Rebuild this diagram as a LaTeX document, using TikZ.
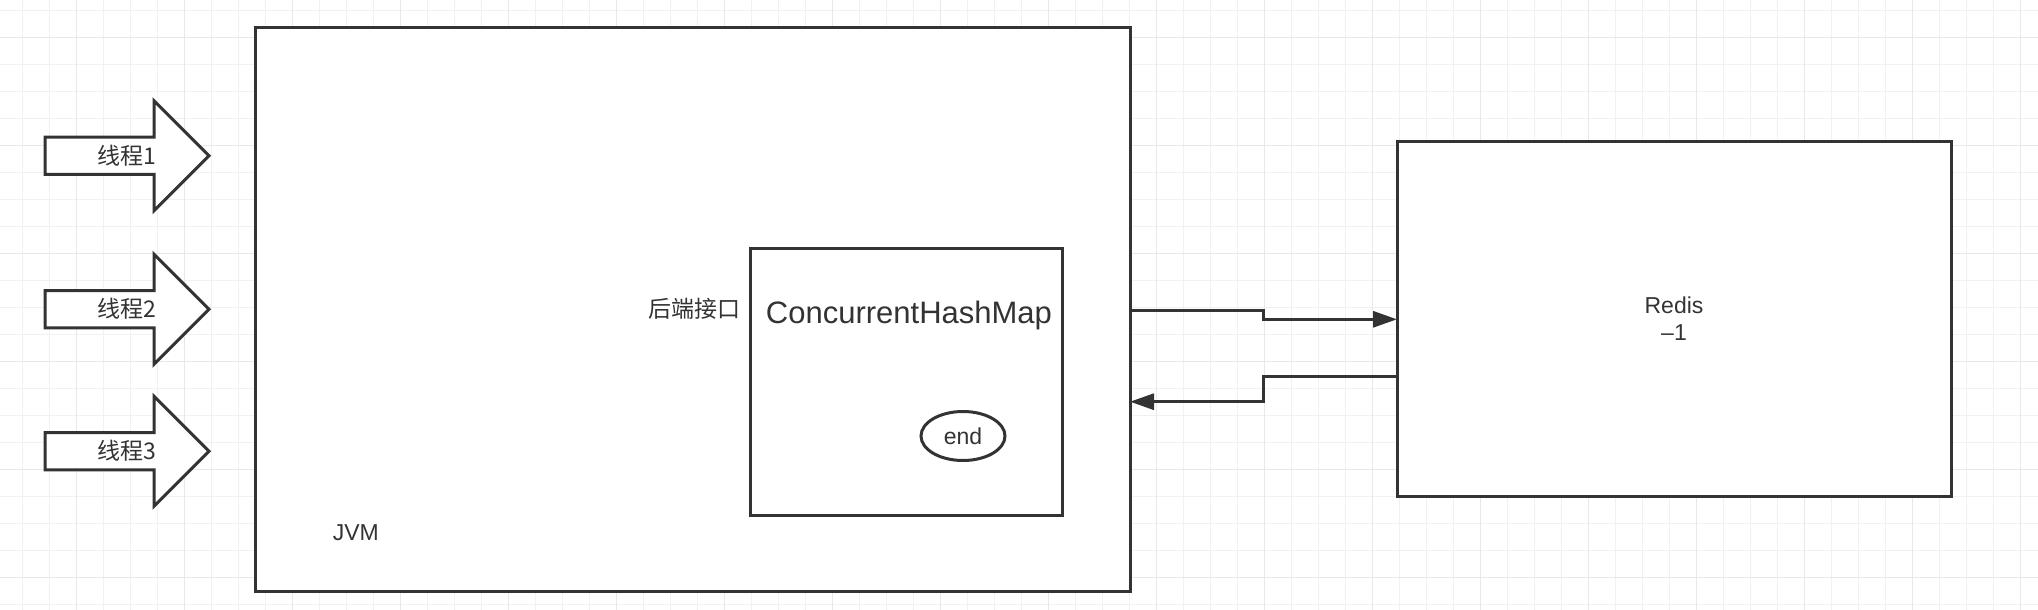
\documentclass[tikz,border=0pt]{standalone}
\usepackage{fontspec}
\setmainfont{Liberation Sans}
\newfontfamily\cjk{Noto Sans CJK SC}
\usetikzlibrary{arrows.meta,shapes.geometric}
\definecolor{ink}{HTML}{333333}
\definecolor{gridminor}{HTML}{F1F1F1}
\definecolor{gridmajor}{HTML}{E8E8E8}
\begin{document}
\begin{tikzpicture}[x=1pt,y=-1pt,
  box/.style={draw=ink, line width=3pt, fill=white, inner sep=0pt, outer sep=0pt},
  lbl/.style={text=ink, font=\fontsize{23}{27.4}\selectfont, inner sep=0pt},
  cjklbl/.style={text=ink, font=\cjk\fontsize{23}{27.4}\selectfont, inner sep=0pt},
  conn/.style={draw=ink, line width=3pt, -{Triangle[length=24pt,width=16pt]}},
  threadarrow/.style={draw=ink, line width=3pt, fill=white, line join=miter},
  minorline/.style={draw=gridminor, line width=1pt},
  majorline/.style={draw=gridmajor, line width=1.4pt}]
\useasboundingbox (0,0) rectangle (2038,610);
\fill[white] (0,0) rectangle (2038,610);
% grid
\foreach \i in {0,...,75} {\draw[minorline] (22.7+27*\i,0) -- (22.7+27*\i,610);}
\foreach \j in {0,...,22} {\draw[minorline] (0,10.7+27*\j) -- (2038,10.7+27*\j);}
\foreach \i in {0,...,18} {\draw[majorline] (76.7+108*\i,0) -- (76.7+108*\i,610);}
\foreach \j in {0,...,5} {\draw[majorline] (0,37.7+108*\j) -- (2038,37.7+108*\j);}
% thread arrows
\foreach \cy/\n/\t in {155.7/th1/线程1, 309.2/th2/线程2, 451.2/th3/线程3} {
  \draw[threadarrow] (45,\cy-18.7) -- (154,\cy-18.7) -- (154,\cy-55) -- (209,\cy)
     -- (154,\cy+55) -- (154,\cy+18.7) -- (45,\cy+18.7) -- cycle;
  \node[cjklbl] (\n) at (127,\cy) {\t};
}
% JVM
\node[box, minimum width=874.3pt, minimum height=564pt] (jvm) at (692.85,309.7) {};
\node[lbl, anchor=base] (jvmlbl) at (355.8,540) {JVM};
% ConcurrentHashMap
\node[box, minimum width=312.7pt, minimum height=267.4pt] (chm) at (906.35,382) {};
\node[lbl, font=\fontsize{31}{36}\selectfont, anchor=base] (chmlbl) at (909,323.3) {ConcurrentHashMap};
\node[cjklbl] (api) at (694,309) {后端接口};
\node[draw=ink, line width=3pt, fill=white, ellipse, minimum width=84pt, minimum height=49pt,
      inner sep=0pt, text=ink, font=\fontsize{23}{27.4}\selectfont] (endn) at (963,436) {end};
% Redis
\node[box, minimum width=554pt, minimum height=354.3pt, align=center, text=ink,
      font=\fontsize{23}{27.4}\selectfont] (redis) at (1674,318.85) {Redis\\–1};
% connectors
\coordinate (s1) at (1263.3,310);
\coordinate (s2) at (1263.3,319.3);
\draw[conn] (jvm.east |- s1) -- (s1) -- (s2) -- (redis.west |- s2);
\coordinate (r1) at (1263,376.7);
\coordinate (r2) at (1263,401.7);
\draw[conn] (redis.west |- r1) -- (r1) -- (r2) -- (jvm.east |- r2);
\end{tikzpicture}
\end{document}
